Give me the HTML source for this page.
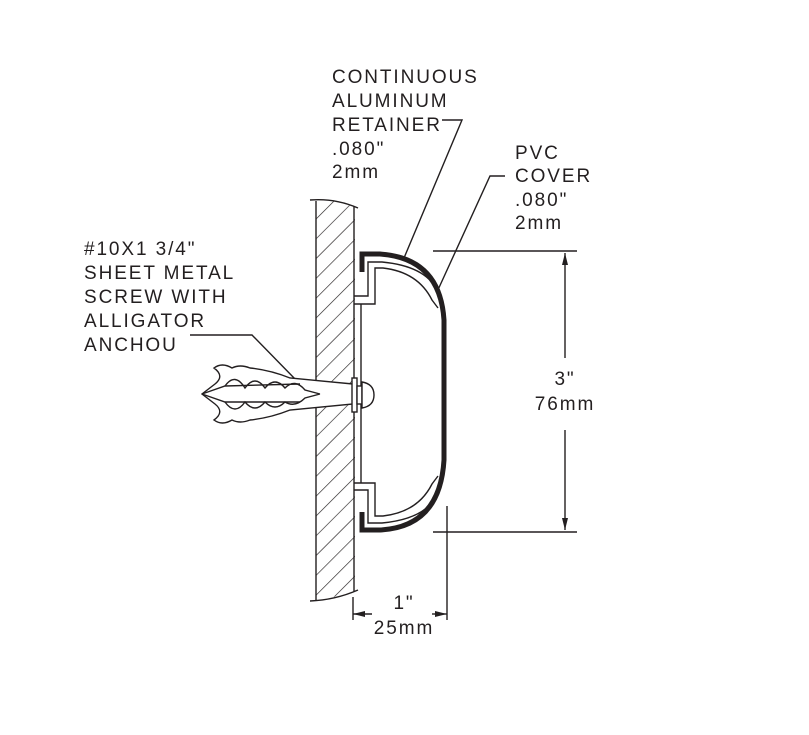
<!DOCTYPE html>
<html><head><meta charset="utf-8"><style>
html,body{margin:0;padding:0;background:#fff;}
svg{display:block;}
text{font-family:"Liberation Sans",sans-serif;font-size:19px;fill:#231f20;letter-spacing:1.9px;}
</style></head><body>
<svg width="809" height="735" viewBox="0 0 809 735" xmlns="http://www.w3.org/2000/svg">
<defs>
<pattern id="h" patternUnits="userSpaceOnUse" width="14" height="14" patternTransform="rotate(45)">
<line x1="0" y1="0" x2="0" y2="14" stroke="#231f20" stroke-width="1.3"/>
</pattern>
<clipPath id="wc"><path d="M316,200 Q335,198 355,208 L355,590 Q335,598 316,600 Z"/></clipPath>
</defs>
<rect x="316" y="195" width="40" height="410" fill="url(#h)" clip-path="url(#wc)"/>
<g stroke="#231f20" stroke-width="1.4" fill="none">
<line x1="316" y1="201" x2="316" y2="600"/>
<line x1="354" y1="206" x2="354" y2="592"/>
<path d="M310,200 Q335,198 358,208"/>
<path d="M310,601 Q335,600 358,590"/>
<path d="M354,304 L375,304 L375,268 L383,268 Q418,272 432,300 L438,308"/>
<path d="M354,296 L368,296 L368,262 L382,262 Q425,266 437,290"/>
<path d="M354,483 L375,483 L375,516 L383,516 Q418,512 432,484 L438,476"/>
<path d="M354,490 L368,490 L368,523 L382,523 Q425,519 437,495"/>
<line x1="361" y1="304" x2="361" y2="483"/>
<line x1="433" y1="251" x2="577" y2="251"/>
<line x1="433" y1="532" x2="577" y2="532"/>
<line x1="565" y1="253" x2="565" y2="358"/>
<line x1="565" y1="430" x2="565" y2="530"/>
<line x1="447" y1="506" x2="447" y2="620"/>
<line x1="353" y1="597" x2="353" y2="620"/>
<line x1="353" y1="614" x2="372" y2="614"/>
<line x1="432" y1="614" x2="447" y2="614"/>
<path d="M442,120 L462,120 L404,258"/>
<path d="M505,176 L490,176 L437,292"/>
<path d="M190,335 L252,335 L296,380"/>
</g>
<g fill="#231f20">
<path d="M565,253 l-3,12 h6 z"/>
<path d="M565,530 l-3,-12 h6 z"/>
<path d="M353,614 l12,-3 v6 z"/>
<path d="M447,614 l-12,-3 v6 z"/>
</g>
<path d="M362,272 L362,254 L380,254 Q440,258 444,320 L444,460 Q440,527 380,530 L362,530 L362,512" stroke="#231f20" stroke-width="5" fill="none"/>
<g stroke="#231f20" stroke-width="1.4" fill="#fff">
<path d="M353,384 L290,378 Q270,370 250,368 Q240,364 232,368 Q222,362 214,368 Q225,376 215,384 L202,394 L215,404 Q225,412 214,420 Q222,426 232,420 Q240,424 250,420 Q270,418 290,410 L353,404 Z"/>
<path d="M202,394 L225,386 L300,384 M202,394 L225,402 L300,402" fill="none"/>
<path d="M225,386 Q235,372 245,388 Q255,374 265,388 Q275,376 285,388 Q295,378 305,390 L320,394 M225,402 Q235,416 245,402 Q255,414 265,402 Q275,412 285,402 Q295,408 305,398 L320,394" fill="none"/>
<rect x="352" y="378" width="5" height="34"/>
<rect x="357" y="386" width="5" height="18"/>
<path d="M362,382 Q374,384 374,395 Q374,406 362,408 Z"/>
</g>
<text x="332" y="83">CONTINUOUS</text>
<text x="332" y="107">ALUMINUM</text>
<text x="332" y="131">RETAINER</text>
<text x="332" y="155">.080"</text>
<text x="332" y="178">2mm</text>
<text x="515" y="159">PVC</text>
<text x="515" y="182">COVER</text>
<text x="515" y="206">.080"</text>
<text x="515" y="229">2mm</text>
<text x="84" y="255">#10X1 3/4"</text>
<text x="84" y="279">SHEET METAL</text>
<text x="84" y="303">SCREW WITH</text>
<text x="84" y="327">ALLIGATOR</text>
<text x="84" y="351">ANCHOU</text>
<text x="565" y="385" text-anchor="middle">3"</text>
<text x="565" y="410" text-anchor="middle">76mm</text>
<text x="404" y="609" text-anchor="middle">1"</text>
<text x="404" y="634" text-anchor="middle">25mm</text>
</svg>
</body></html>
